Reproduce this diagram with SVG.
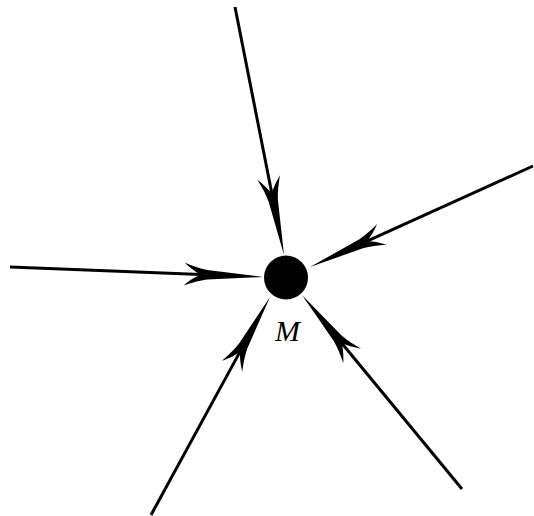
<svg xmlns="http://www.w3.org/2000/svg" xmlns:xlink="http://www.w3.org/1999/xlink" width="534" height="516" viewBox="0 0 534 516">
<style>
.ln{stroke:#000;stroke-width:3;fill:none;stroke-linecap:butt}
.lbl{font-family:"Liberation Serif","Times New Roman",serif;font-style:italic;font-size:30px;fill:#000}
</style>
<defs>
<path id="head" d="M0,0 L-56,-4.8 C-63,-6 -71,-8.5 -79,-11.5 C-72,-5.5 -67,-2 -62,0 C-67,2 -72,5.5 -79,11.5 C-71,8.5 -63,6 -56,4.8 Z" fill="#000"/>
</defs>
<rect width="534" height="516" fill="#fff"/>
<g id="connectors">
<line class="ln" x1="235" y1="7" x2="272" y2="194.2"/>
<use xlink:href="#head" href="#head" transform="translate(284,255) rotate(78.8)"/>
<line class="ln" x1="533" y1="166" x2="366.5" y2="241.4"/>
<use xlink:href="#head" href="#head" transform="translate(310,267) rotate(155.6)"/>
<line class="ln" x1="10" y1="267" x2="201" y2="274.6"/>
<use xlink:href="#head" href="#head" transform="translate(263,277) rotate(2.26)"/>
<line class="ln" x1="151" y1="515" x2="240.2" y2="351.4"/>
<use xlink:href="#head" href="#head" transform="translate(270,297) rotate(-61.3)"/>
<line class="ln" x1="462" y1="489" x2="341.4" y2="342.8"/>
<use xlink:href="#head" href="#head" transform="translate(302,295) rotate(-129.5)"/>
</g>
<g id="M">
<circle cx="286" cy="277.5" r="22" fill="#000"/>
<text class="lbl" x="275" y="341">M</text>
</g>
</svg>
